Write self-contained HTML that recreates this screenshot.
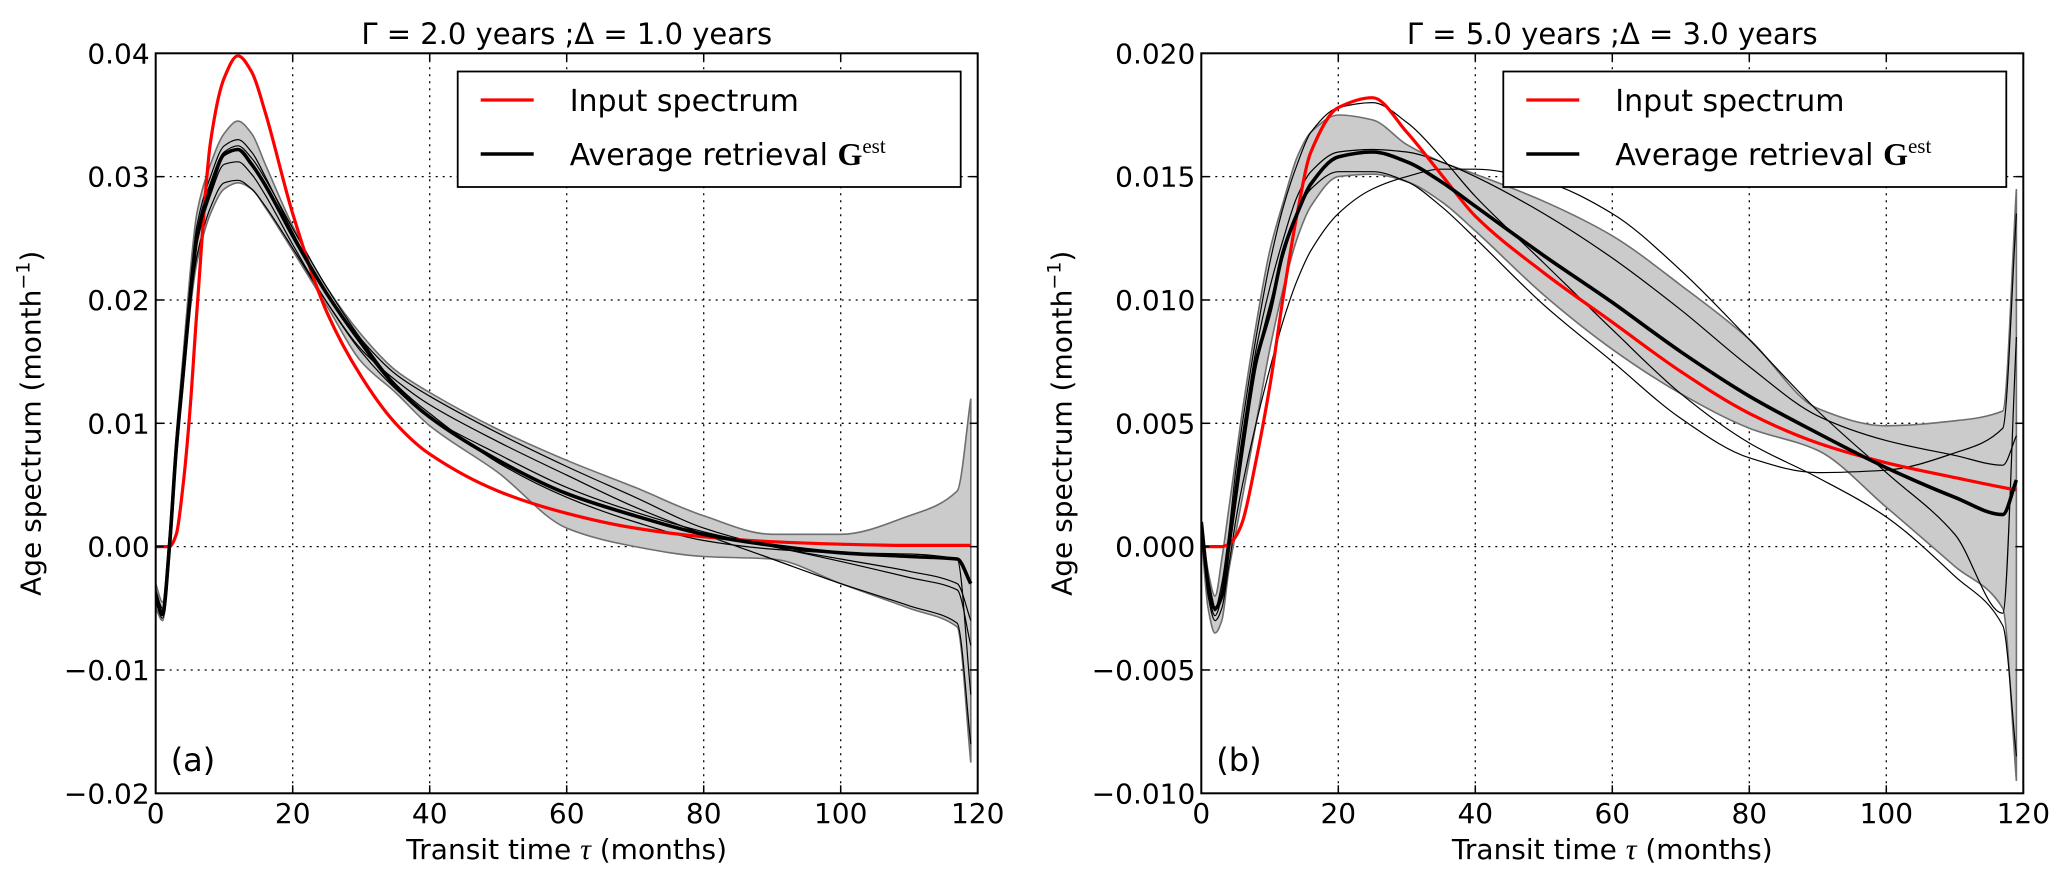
<!DOCTYPE html>
<html><head><meta charset="utf-8"><style>
html,body{margin:0;padding:0;background:#fff}
svg{display:block;font-family:"DejaVu Sans","Liberation Sans",sans-serif}
</style></head><body>
<svg id="fig" width="2067" height="884" viewBox="0 0 2067 884" xmlns="http://www.w3.org/2000/svg"></svg>
<script>
const tau = [0,1,2,3,4,5,6,8,10,12,14,16,20,25,30,35,40,50,60,70,80,90,100,110,117,119];
const xTicks = [0,20,40,60,80,100,120];
// Panel (a)
const aInput = [0,0,0,0.001,0.005,0.011,0.019,0.0328,0.038,0.0398,0.0385,0.0352,0.027,0.019,0.0138,0.010,0.0075,0.0045,0.0027,0.0015,0.0008,0.0004,0.0002,0.0001,0.0001,0.0001];
const aAvg = [-0.004,-0.0055,0.0,0.008,0.014,0.02,0.025,0.029,0.0318,0.0322,0.031,0.0293,0.0252,0.0205,0.0165,0.013,0.0105,0.007,0.0043,0.0025,0.001,0.0001,-0.0005,-0.0008,-0.001,-0.003];
const aUpper = [-0.003,-0.0045,0.001,0.009,0.0155,0.022,0.027,0.031,0.0335,0.0345,0.0335,0.031,0.026,0.021,0.0172,0.0143,0.0125,0.0095,0.007,0.0048,0.0025,0.001,0.001,0.0025,0.0045,0.012];
const aLower = [-0.005,-0.006,-0.001,0.007,0.013,0.019,0.023,0.027,0.029,0.0295,0.029,0.0275,0.024,0.0195,0.015,0.0125,0.0098,0.006,0.0015,0.0,-0.0008,-0.001,-0.003,-0.005,-0.0065,-0.0175];
const aM1 = [-0.0035,-0.005,0.0005,0.0085,0.015,0.021,0.026,0.030,0.0325,0.0330,0.032,0.030,0.0255,0.0205,0.0168,0.014,0.0122,0.0092,0.0065,0.004,0.0015,0.0,-0.001,-0.002,-0.003,-0.006];
const aM2 = [-0.0045,-0.0058,-0.0005,0.0075,0.0135,0.0195,0.0235,0.0275,0.0295,0.0297,0.029,0.0276,0.0242,0.0198,0.016,0.0135,0.0115,0.0085,0.0058,0.0032,0.001,-0.001,-0.003,-0.0048,-0.0062,-0.016];
const aM3 = [-0.004,-0.0055,0.0,0.008,0.014,0.020,0.0245,0.0285,0.031,0.0312,0.0302,0.0285,0.0245,0.0198,0.0158,0.0128,0.0105,0.0075,0.0048,0.0028,0.0012,0.0,-0.0012,-0.0025,-0.0035,-0.008];
const aM4 = [-0.0038,-0.0052,0.0002,0.0082,0.0145,0.0205,0.0255,0.0295,0.032,0.0325,0.0315,0.0298,0.0258,0.021,0.0168,0.0132,0.0108,0.0068,0.004,0.002,0.0005,-0.0002,-0.0005,-0.0006,-0.001,-0.012];
const aYTicks = [-0.02,-0.01,0.00,0.01,0.02,0.03,0.04];
const aYLabels = ["\u22120.02","\u22120.01","0.00","0.01","0.02","0.03","0.04"];
// Panel (b)
const bInput = [0,0,0,0,0.0001,0.0004,0.001,0.0035,0.0065,0.0102,0.0135,0.016,0.0178,0.0182,0.0168,0.0151,0.0134,0.0111,0.0091,0.0071,0.0054,0.0042,0.0034,0.0028,0.0024,0.0023];
const bAvg = [0.001,-0.0015,-0.0025,-0.002,0.0,0.002,0.004,0.0075,0.0095,0.012,0.0135,0.0147,0.0158,0.016,0.0156,0.0148,0.0138,0.0118,0.0099,0.0079,0.0061,0.0046,0.0032,0.002,0.0013,0.0027];
const bUpper = [0.001,-0.001,-0.002,-0.0005,0.0015,0.0035,0.0055,0.009,0.012,0.014,0.0158,0.0168,0.0175,0.0173,0.0163,0.0156,0.0151,0.014,0.0126,0.0106,0.0084,0.0056,0.0049,0.0051,0.0055,0.0145];
const bLower = [0.0005,-0.0025,-0.0035,-0.003,-0.001,0.0005,0.002,0.005,0.008,0.0105,0.0125,0.0138,0.015,0.0151,0.0148,0.014,0.0128,0.0102,0.008,0.0062,0.0048,0.0039,0.0016,-0.0008,-0.0025,-0.0095];
const bM1 = [0.001,-0.0015,-0.0025,-0.0015,0.0005,0.003,0.005,0.0085,0.0115,0.0138,0.0155,0.0168,0.0178,0.018,0.0172,0.0158,0.0142,0.0115,0.0088,0.0062,0.0042,0.0028,0.0012,-0.0012,-0.0032,-0.0085];
const bM2 = [0.0008,-0.002,-0.003,-0.0025,-0.0008,0.001,0.0025,0.005,0.0072,0.0092,0.0108,0.012,0.0135,0.0145,0.015,0.0153,0.0153,0.0148,0.0135,0.0112,0.0084,0.0055,0.003,0.0005,-0.0027,0.0085];
const bM3 = [0.0009,-0.0018,-0.0028,-0.002,0.0,0.002,0.004,0.0075,0.0098,0.0118,0.0135,0.0145,0.0152,0.0152,0.0148,0.0138,0.0125,0.0098,0.0075,0.0052,0.0036,0.003,0.0031,0.0038,0.0048,0.0135];
const bM4 = [0.001,-0.0016,-0.0026,-0.0018,0.0002,0.0025,0.0045,0.008,0.0105,0.0125,0.0142,0.0152,0.016,0.0161,0.016,0.0156,0.015,0.0135,0.0117,0.0096,0.0073,0.0053,0.0043,0.0037,0.0033,0.0045];
const bYTicks = [-0.010,-0.005,0.000,0.005,0.010,0.015,0.020];
const bYLabels = ["\u22120.010","\u22120.005","0.000","0.005","0.010","0.015","0.020"];

const NS = "http://www.w3.org/2000/svg";
const fig = document.getElementById('fig');
function mk(tag, attrs, parent, text){
  const e = document.createElementNS(NS, tag);
  for (const k in attrs) e.setAttribute(k, attrs[k]);
  if (text !== undefined) e.textContent = text;
  (parent||fig).appendChild(e);
  return e;
}
// monotone cubic segments through points (px must be monotonic)
function smooth(px, py, first){
  const n = px.length, d = [], m = [];
  for (let i=0;i<n-1;i++) d.push((py[i+1]-py[i])/(px[i+1]-px[i]));
  m[0]=d[0]; m[n-1]=d[n-2];
  for (let i=1;i<n-1;i++) m[i] = (d[i-1]*d[i] <= 0) ? 0 : (2*d[i-1]*d[i])/(d[i-1]+d[i]);
  let s = (first ? 'M' : 'L') + px[0].toFixed(1) + ',' + py[0].toFixed(1);
  for (let i=0;i<n-1;i++){
    const h = (px[i+1]-px[i])/3;
    s += 'C' + (px[i]+h).toFixed(1) + ',' + (py[i]+m[i]*h).toFixed(1) + ' ' + (px[i+1]-h).toFixed(1) + ',' + (py[i+1]-m[i+1]*h).toFixed(1) + ' ' + px[i+1].toFixed(1) + ',' + py[i+1].toFixed(1);
  }
  return s;
}

function panel(cfg){
  const L = cfg.left, R = cfg.left + 822, T = 53.3, B = 793.3;
  const yMin = cfg.yTicks[0], yMax = cfg.yTicks[cfg.yTicks.length-1];
  const sx = v => L + (v - 0) / 120 * (R - L);
  const sy = v => B - (v - yMin) / (yMax - yMin) * (B - T);
  const g = mk('g', {});
  
  
  const clipId = cfg.name + '-clip';
  const cp = mk('clipPath', {id: clipId}, g);
  mk('rect', {x: L, y: T, width: R-L, height: B-T}, cp);
  const grid = mk('g', {}, g);
  
  
  xTicks.forEach(t => { if (t>0 && t<120) mk('line', {x1: sx(t), x2: sx(t), y1: T, y2: B, stroke: '#000', 'stroke-width': 1.3, 'stroke-dasharray': '2 5'}, grid); });
  cfg.yTicks.forEach(t => { if (t>yMin && t<yMax) mk('line', {x1: L, x2: R, y1: sy(t), y2: sy(t), stroke: '#000', 'stroke-width': 1.3, 'stroke-dasharray': '2 5'}, grid); });
  const plot = mk('g', {'clip-path': 'url(#' + clipId + ')'}, g);
  const PX = tau.map(sx);
  const up = smooth(PX, cfg.upper.map(sy), true);
  const rx = PX.slice().reverse(), ry = cfg.lower.map(sy).reverse();
  const low = smooth(rx.map(v=>-v), ry, false).replace(/([MLC ])(-?\d+\.?\d*),/g, (m,p,x) => p + (-parseFloat(x)).toFixed(1) + ',');
  const band = mk('path', {d: up + low + 'Z', fill: '#cbcbcb', stroke: '#6e6e6e', 'stroke-width': 1.6}, plot);
  
  
  const line = (arr, color, w, name) => {
    const p = mk('path', {d: smooth(PX, arr.map(sy), true), fill: 'none', stroke: color, 'stroke-width': w, 'stroke-linejoin': 'round'}, plot);
    
    
  };
  cfg.members.forEach((m, k) => line(m, '#000', 1.2, 'member-retrieval-' + (k+1)));
  line(cfg.input, '#ff0000', 3.2, 'input-spectrum-line');
  line(cfg.avg, '#000', 3.6, 'average-retrieval-line');
  const fr = mk('rect', {x: L, y: T, width: R-L, height: B-T, fill: 'none', stroke: '#000', 'stroke-width': 2}, g);
  
  
  xTicks.forEach(t => {
    mk('line', {x1: sx(t), x2: sx(t), y1: B, y2: B-8, stroke: '#000', 'stroke-width': 1.5}, g);
    mk('line', {x1: sx(t), x2: sx(t), y1: T, y2: T+8, stroke: '#000', 'stroke-width': 1.5}, g);
    const tl = mk('text', {x: sx(t), y: 823, 'font-size': 28, 'text-anchor': 'middle'}, g, String(t));
    
    
  });
  cfg.yTicks.forEach((t,i) => {
    mk('line', {x1: L, x2: L+8, y1: sy(t), y2: sy(t), stroke: '#000', 'stroke-width': 1.5}, g);
    mk('line', {x1: R, x2: R-8, y1: sy(t), y2: sy(t), stroke: '#000', 'stroke-width': 1.5}, g);
    const tl = mk('text', {x: L-6, y: sy(t)+10, 'font-size': 28, 'text-anchor': 'end'}, g, cfg.yLabels[i]);
    
    
  });
  const xl = mk('text', {x: (L+R)/2, y: 859, 'font-size': 28, 'text-anchor': 'middle'}, g);
  xl.innerHTML = 'Transit time <tspan font-family="Liberation Serif, serif" font-style="italic" font-size="30">&#964;</tspan> (months)';
  
  
  const yl = mk('text', {x: 0, y: 0, 'font-size': 28, 'text-anchor': 'middle', transform: 'translate(' + (L - cfg.ylabOff) + ',' + ((T+B)/2) + ') rotate(-90)'}, g);
  yl.innerHTML = 'Age spectrum (month<tspan dy="-11" font-size="19">&#8722;1</tspan><tspan dy="11">)</tspan>';
  
  
  const ti = mk('text', {x: (L+R)/2, y: 44, 'font-size': 29, 'text-anchor': 'middle'}, g, cfg.title);
  
  
  const pl = mk('text', {x: L+15, y: 771, 'font-size': 32}, g, cfg.tag);
  
  
  const lg = mk('g', {}, g);
  
  
  const lx = L + 302;
  mk('rect', {x: lx, y: 71.5, width: R - 17 - lx, height: 115.5, fill: '#fff', stroke: '#000', 'stroke-width': 1.8}, lg);
  mk('line', {x1: lx+23, x2: lx+76, y1: 100, y2: 100, stroke: '#ff0000', 'stroke-width': 3.2}, lg);
  const t1 = mk('text', {x: lx+112, y: 111, 'font-size': 30}, lg, 'Input spectrum');
  
  
  mk('line', {x1: lx+23, x2: lx+76, y1: 154, y2: 154, stroke: '#000', 'stroke-width': 3.6}, lg);
  const t2 = mk('text', {x: lx+112, y: 165, 'font-size': 30}, lg);
  t2.innerHTML = 'Average retrieval <tspan font-family="Liberation Serif, serif" font-weight="bold" font-size="32">G</tspan><tspan font-family="Liberation Serif, serif" font-size="21" dy="-12">est</tspan>';
  
  
}

panel({name: 'panel-a', left: 155.7, yTicks: aYTicks, yLabels: aYLabels, input: aInput, avg: aAvg, upper: aUpper, lower: aLower,
  members: [aM1, aM2, aM3, aM4], title: '\u0393 = 2.0 years ;\u0394 = 1.0 years', tag: '(a)', ylabOff: 115});
panel({name: 'panel-b', left: 1201.3, yTicks: bYTicks, yLabels: bYLabels, input: bInput, avg: bAvg, upper: bUpper, lower: bLower,
  members: [bM1, bM2, bM3, bM4], title: '\u0393 = 5.0 years ;\u0394 = 3.0 years', tag: '(b)', ylabOff: 130});
</script>
</body></html>
